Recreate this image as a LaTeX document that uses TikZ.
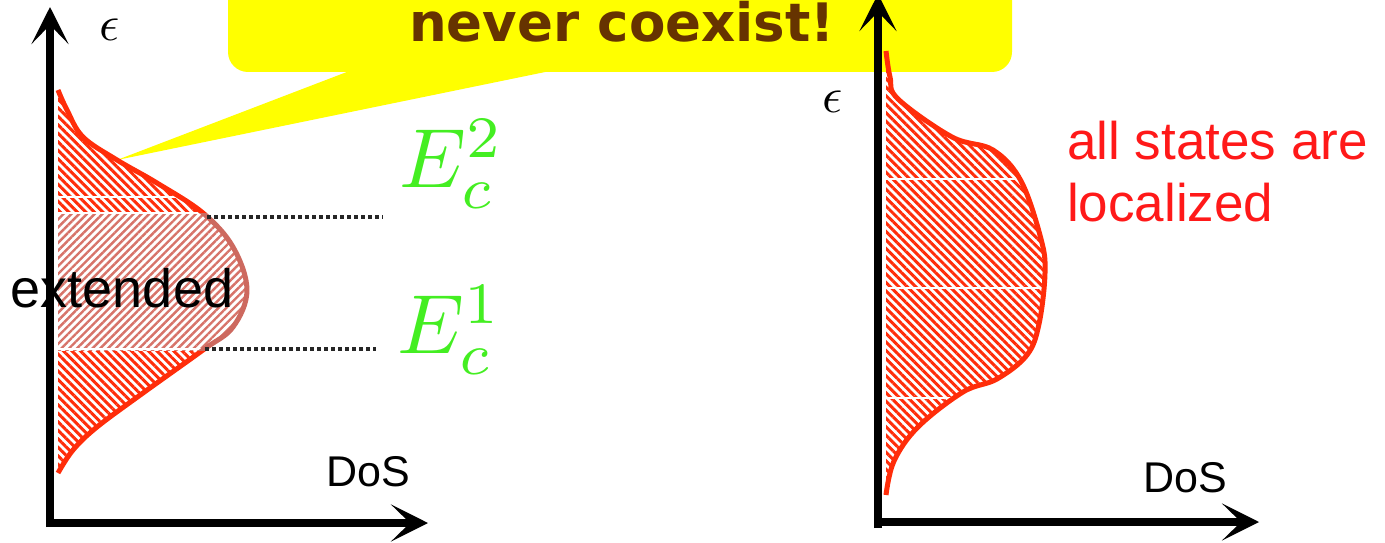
\documentclass[tikz,border=0pt]{standalone}
\usepackage{fontspec}
\newfontfamily\arialf{Liberation Sans}
\newfontfamily\calloutf{DejaVu Sans}
\usetikzlibrary{arrows.meta,patterns.meta}
\definecolor{dosred}{RGB}{255,45,10}
\definecolor{dospink}{RGB}{215,115,105}
\definecolor{dosbrown}{RGB}{205,105,95}
\definecolor{calloutyellow}{RGB}{255,255,0}
\definecolor{calloutbrown}{RGB}{102,51,0}
\definecolor{ecgreen}{RGB}{68,238,34}
\definecolor{textred}{RGB}{255,25,25}
\tikzset{
  axisline/.style={line width=8pt,-{Stealth[length=37pt,width=37pt,inset=19pt]}},
  dotline/.style={line width=4pt,black!85,dash pattern=on 4pt off 3pt},
  redhatch/.style={pattern={Lines[angle=-45,distance=6pt,line width=3pt]},pattern color=dosred},
  pinkhatch/.style={pattern={Lines[angle=45,distance=5.5pt,line width=2.4pt]},pattern color=dospink},
  outline/.style={line width=5pt,dosred,line join=round},
  arialtext/.style={inner sep=0pt,font=\arialf\fontsize{#1}{#1}\selectfont},
  mathlabel/.style={inner sep=0pt,font=\fontsize{10}{12}\selectfont,scale=#1},
}
\begin{document}
\begin{tikzpicture}[x=1pt,y=1pt]
\useasboundingbox (0,0) rectangle (1385,542);
\clip (0,0) rectangle (1385,542);
% callout
\fill[calloutyellow,rounded corners=20pt] (228,620) rectangle (1012,470);
\fill[calloutyellow] (352,472) -- (117,382) -- (555,472) -- cycle;
\node[anchor=base,inner sep=0pt,text=calloutbrown,font=\calloutf\bfseries\fontsize{53}{53}\selectfont] (msg) at (622,500) {never coexist!};
% left density of states
\path[redhatch] plot[smooth,tension=0.6] coordinates {(58,452) (67,432) (83,405) (117,382) (157,359) (203,329) (233,295) (247,252) (233,215) (203,192) (143,149) (97,115) (73,92) (58,69)} -- cycle;
\begin{scope}
\clip (0,192) rectangle (300,329);
\fill[white] plot[smooth,tension=0.6] coordinates {(58,452) (67,432) (83,405) (117,382) (157,359) (203,329) (233,295) (247,252) (233,215) (203,192) (143,149) (97,115) (73,92) (58,69)} -- cycle;
\path[pinkhatch] plot[smooth,tension=0.6] coordinates {(58,452) (67,432) (83,405) (117,382) (157,359) (203,329) (233,295) (247,252) (233,215) (203,192) (143,149) (97,115) (73,92) (58,69)} -- cycle;
\end{scope}
\begin{scope}
\clip plot[smooth,tension=0.6] coordinates {(58,452) (67,432) (83,405) (117,382) (157,359) (203,329) (233,295) (247,252) (233,215) (203,192) (143,149) (97,115) (73,92) (58,69)} -- cycle;
\draw[white,line width=1.5pt] (50,345) -- (300,345);
\draw[white,line width=1.5pt] (50,329) -- (300,329);
\draw[white,line width=1.5pt] (50,193) -- (300,193);
\end{scope}
\begin{scope}
\clip (0,0) rectangle (300,192) (0,329) rectangle (300,542);
\draw[outline] plot[smooth,tension=0.6] coordinates {(58,452) (67,432) (83,405) (117,382) (157,359) (203,329) (233,295) (247,252) (233,215) (203,192) (143,149) (97,115) (73,92) (58,69)};
\end{scope}
\begin{scope}
\clip (0,192) rectangle (300,329);
\draw[outline,dosbrown] plot[smooth,tension=0.6] coordinates {(58,452) (67,432) (83,405) (117,382) (157,359) (203,329) (233,295) (247,252) (233,215) (203,192) (143,149) (97,115) (73,92) (58,69)};
\end{scope}
% right density of states
\path[redhatch] plot[smooth,tension=0.6] coordinates {(886,491) (890,465) (898,443) (952,405) (993,392) (1021,361) (1041,303) (1045,269) (1039,218) (1027,187) (997,163) (963,150) (918,115) (894,81) (886,47)} -- cycle;
\begin{scope}
\clip plot[smooth,tension=0.6] coordinates {(886,491) (890,465) (898,443) (952,405) (993,392) (1021,361) (1041,303) (1045,269) (1039,218) (1027,187) (997,163) (963,150) (918,115) (894,81) (886,47)} -- cycle;
\draw[white,line width=1.5pt] (870,363) -- (1100,363);
\draw[white,line width=1.5pt] (870,254) -- (1100,254);
\draw[white,line width=1.5pt] (870,144) -- (1100,144);
\end{scope}
\draw[outline] plot[smooth,tension=0.6] coordinates {(886,491) (890,465) (898,443) (952,405) (993,392) (1021,361) (1041,303) (1045,269) (1039,218) (1027,187) (997,163) (963,150) (918,115) (894,81) (886,47)};
% dotted mobility edges
\coordinate (d2a) at (207,325);
\coordinate (d2b) at (383,325);
\coordinate (d1a) at (205,193);
\coordinate (d1b) at (376,193);
\draw[dotline] (d2a) -- (d2b);
\draw[dotline] (d1a) -- (d1b);
% axes
\coordinate (O1) at (50,15);
\coordinate (Y1) at (50,535);
\coordinate (C1) at (46,19);
\coordinate (X1) at (428,19);
\draw[axisline] (O1) -- (Y1);
\draw[axisline] (C1) -- (X1);
\coordinate (O2) at (878,14);
\coordinate (Y2) at (878,548);
\coordinate (C2) at (874,20);
\coordinate (X2) at (1259,20);
\draw[axisline] (O2) -- (Y2);
\draw[axisline] (C2) -- (X2);
% labels
\node[mathlabel=5] (eps1) at (110,512) {$\epsilon$};
\node[mathlabel=5] (eps2) at (833,440) {$\epsilon$};
\node[mathlabel=8.4,text=ecgreen] (ec2) at (452,378) {$E_c^2$};
\node[mathlabel=8.4,text=ecgreen] (ec1) at (450,212) {$E_c^1$};
\node[arialtext=54] (ext) at (122,254) {extended};
\node[arialtext=43] (dos1) at (368,70) {DoS};
\node[arialtext=43] (dos2) at (1185,64) {DoS};
\node[arialtext=53,anchor=base west,text=textred] (loc1) at (1067,382) {all states are};
\node[arialtext=53,anchor=base west,text=textred] (loc2) at (1067,320) {localized};
\end{tikzpicture}
\end{document}
